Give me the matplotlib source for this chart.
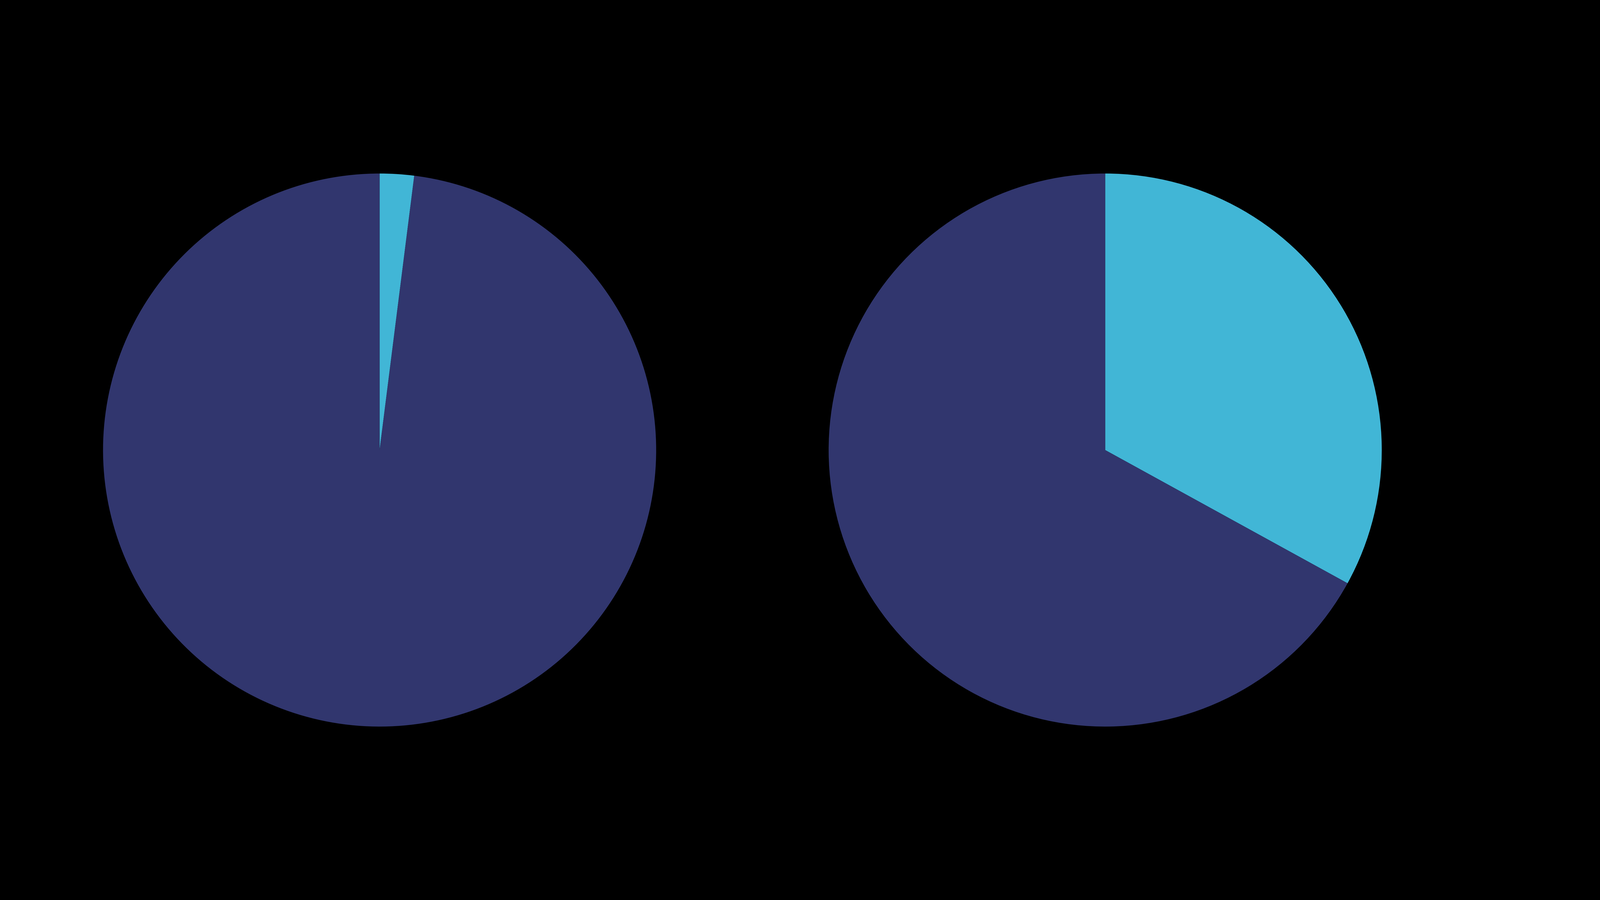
import matplotlib
matplotlib.use("Agg")
import matplotlib.pyplot as plt

# share of each pie (highlight first, remainder second)
left_values = [2, 98]
right_values = [33, 67]
labels = ["highlight", "rest"]

COLORS = ["#41B6D6", "#31366E"]
BG = "#000000"

fig = plt.figure(figsize=(16, 9), dpi=375)
fig.set_facecolor(BG)

# axes boxes in figure fractions, square so the pies stay round
ax_l = fig.add_axes([0.0644, 0.1927, 0.3457, 0.6145])
ax_r = fig.add_axes([0.5179, 0.1927, 0.3457, 0.6145])

for ax, vals in [(ax_l, left_values), (ax_r, right_values)]:
    ax.set_facecolor(BG)
    ax.pie(vals, colors=COLORS, startangle=90, counterclock=False,
           radius=1.0, wedgeprops=dict(linewidth=0))
    ax.set_xlim(-1, 1); ax.set_ylim(-1, 1)
    ax.set_aspect("auto")
    ax.axis("off")

fig.savefig("out.png", dpi=375, facecolor=BG)
